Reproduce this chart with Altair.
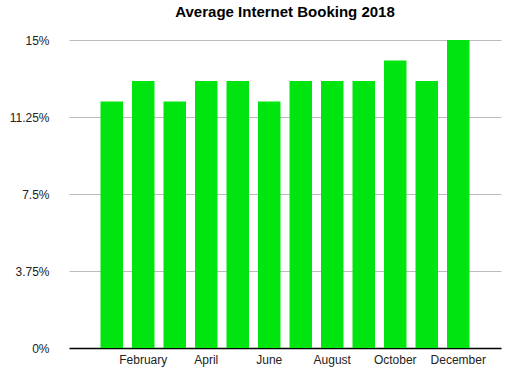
import altair as alt
import pandas as pd

months = ["January", "February", "March", "April", "May", "June", "July",
          "August", "September", "October", "November", "December"]
booking = [12, 13, 12, 13, 13, 12, 13, 13, 13, 14, 13, 15]
y_ticks = [0, 3.75, 7.5, 11.25, 15]
x_labels = ["February", "April", "June", "August", "October", "December"]

df = pd.DataFrame({"month": months, "booking": booking})

chart = alt.Chart(df).mark_bar(color="#00e410").encode(
    x=alt.X("month:N", sort=months,
            scale=alt.Scale(paddingInner=0.286, paddingOuter=1, range=[5, 437]),
            axis=alt.Axis(title=None, values=x_labels, labelAngle=0, ticks=False,
                          domainColor="#000000", domainWidth=1.5,
                          labelFont="Liberation Sans", labelFontSize=12,
                          labelColor="#222222", labelPadding=6, grid=False)),
    y=alt.Y("booking:Q", scale=alt.Scale(domain=[0, 15], nice=False),
            axis=alt.Axis(title=None, values=y_ticks, labelExpr="datum.value + '%'",
                          ticks=False, domain=False, gridColor="#bbbbbb",
                          labelFont="Liberation Sans", labelFontSize=12,
                          labelColor="#222222", labelPadding=15)),
).properties(
    width=442, height=308,
    title=alt.TitleParams("Average Internet Booking 2018", font="Liberation Sans",
                          fontSize=15, fontWeight="bold", color="#000000",
                          anchor="middle", offset=14),
    autosize=alt.AutoSizeParams(type="none"),
    padding={"left": 64, "top": 40, "right": 13, "bottom": 30},
).configure_view(stroke=None)

chart.save("out.html", embed_options={"renderer": "svg", "actions": False})
